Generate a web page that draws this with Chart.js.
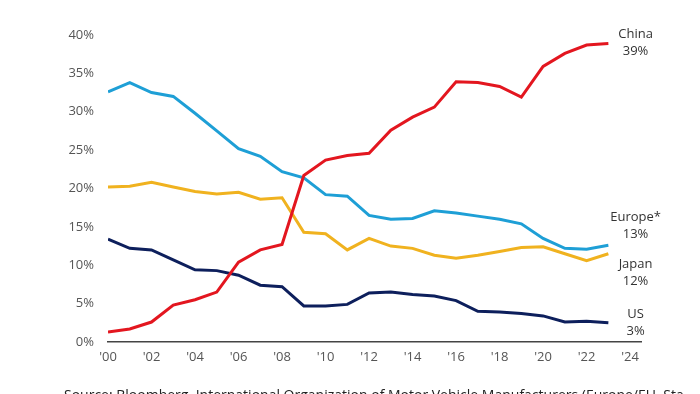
<!DOCTYPE html>
<html>
<head>
<meta charset="utf-8">
<script src="https://cdn.jsdelivr.net/npm/chart.js@4/dist/chart.umd.min.js"></script>
<style>
  html, body { margin: 0; padding: 0; background: #fff; }
  #wrap { width: 700px; height: 394px; position: relative; }
</style>
</head>
<body>
<div id="wrap"><canvas id="shareChart"></canvas></div>
<script>
const years = [2000, 2001, 2002, 2003, 2004, 2005, 2006, 2007, 2008, 2009, 2010, 2011,
  2012, 2013, 2014, 2015, 2016, 2017, 2018, 2019, 2020, 2021, 2022, 2023];

const china = [1.3, 1.7, 2.6, 4.8, 5.5, 6.5, 10.4, 12.0, 12.7, 21.7, 23.7, 24.3,
  24.6, 27.6, 29.3, 30.6, 33.9, 33.8, 33.3, 31.9, 35.9, 37.6, 38.7, 38.9];
const europe = [32.6, 33.8, 32.5, 32.0, 29.8, 27.5, 25.2, 24.2, 22.2, 21.4, 19.2, 19.0,
  16.5, 16.0, 16.1, 17.1, 16.8, 16.4, 16.0, 15.4, 13.5, 12.2, 12.1, 12.6];
const japan = [20.2, 20.3, 20.8, 20.2, 19.6, 19.3, 19.5, 18.6, 18.8, 14.3, 14.1, 12.0,
  13.5, 12.5, 12.2, 11.3, 10.9, 11.3, 11.8, 12.3, 12.4, 11.5, 10.6, 11.5];
const us = [13.4, 12.2, 12.0, 10.7, 9.4, 9.3, 8.7, 7.4, 7.2, 4.7, 4.7, 4.9,
  6.4, 6.5, 6.2, 6.0, 5.4, 4.0, 3.9, 3.7, 3.4, 2.6, 2.7, 2.5];

const seriesNames = ['China', 'Europe*', 'Japan', 'US'];
const endLabels = ['39%', '13%', '12%', '3%'];
const yTicks = [0, 5, 10, 15, 20, 25, 30, 35, 40];
const sourceNote = 'Source: Bloomberg, International Organization of Motor Vehicle Manufacturers (Europe/EU, Sta...';

const colors = ['#e3161f', '#1e9fd6', '#f0b21f', '#0d1f5c'];
const values = [china, europe, japan, us];
// nudge of the right-hand labels relative to the line end (px)
const labelShift = [-1, -20, 19, -1];

const toPoints = (arr) => arr.map((v, i) => ({ x: years[i], y: v }));

const datasets = values.map((arr, i) => ({
  label: seriesNames[i],
  data: toPoints(arr),
  borderColor: colors[i],
  borderWidth: 3,
  pointRadius: 0,
  tension: 0,
  fill: false,
}));

const endLabelPlugin = {
  id: 'endLabels',
  afterDraw(chart) {
    const { ctx } = chart;
    const xs = chart.scales.x;
    const ys = chart.scales.y;
    ctx.save();
    ctx.font = '13px "Open Sans", "Noto Sans", sans-serif';
    ctx.fillStyle = '#333';
    ctx.textAlign = 'center';
    ctx.textBaseline = 'middle';
    values.forEach((arr, i) => {
      const last = arr[arr.length - 1];
      const cx = xs.getPixelForValue(2024.25);
      const cy = ys.getPixelForValue(last) + labelShift[i];
      ctx.fillText(seriesNames[i], cx, cy - 8);
      ctx.fillText(endLabels[i], cx, cy + 9);
    });
    // source line, mostly below the frame
    ctx.textAlign = 'left';
    ctx.textBaseline = 'top';
    ctx.fillStyle = '#222';
    ctx.font = '14px "Open Sans", "Noto Sans", sans-serif';
    ctx.fillText(sourceNote, 64, 389);
    ctx.restore();
  },
};

const ctx = document.getElementById('shareChart');
const shareChart = new Chart(ctx, {
  type: 'line',
  data: { datasets },
  options: {
    responsive: true,
    maintainAspectRatio: false,
    animation: false,
    layout: { padding: { left: 60, right: 59, top: 35, bottom: 28 } },
    plugins: { legend: { display: false }, tooltip: { enabled: false } },
    scales: {
      x: {
        type: 'linear',
        min: 2000,
        max: 2024.5,
        afterBuildTicks: (scale) => {
          scale.ticks = years.concat([2024]).filter((y) => y % 2 === 0).map((v) => ({ value: v }));
        },
        afterFit: (scale) => { scale.height = 24; },
        grid: { display: false, drawTicks: false },
        border: { display: true, color: '#444', width: 1.5 },
        ticks: {
          padding: 7,
          color: '#555',
          font: { family: '"Open Sans", "Noto Sans", sans-serif', size: 13 },
          callback: (v) => "'" + String(v).slice(2),
        },
      },
      y: {
        min: 0,
        max: 40,
        afterBuildTicks: (scale) => {
          scale.ticks = yTicks.map((v) => ({ value: v }));
        },
        afterFit: (scale) => { scale.width = 48; },
        grid: { display: false, drawTicks: false },
        border: { display: false },
        ticks: {
          padding: 14,
          color: '#555',
          font: { family: '"Open Sans", "Noto Sans", sans-serif', size: 13 },
          callback: (v) => v + '%',
        },
      },
    },
  },
  plugins: [endLabelPlugin],
});
</script>
</body>
</html>
